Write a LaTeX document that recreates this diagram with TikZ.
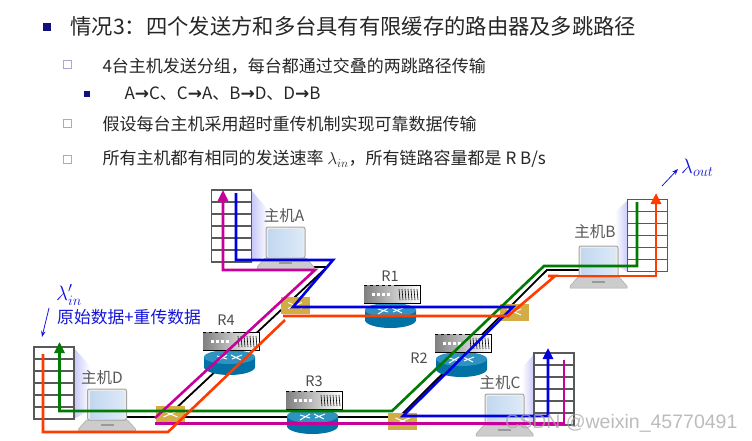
\documentclass[tikz,border=0pt]{standalone}
\usepackage{fontspec}
\usepackage{amsmath}
\usepackage{xcolor}
\setmainfont{Noto Sans CJK SC}
\newfontfamily\markfont{Liberation Sans}
\newfontfamily\arrowfont{DejaVu Sans}
\usetikzlibrary{arrows.meta}

\newcommand{\widecolon}{\char"FF1A\relax}
\newcommand{\widecomma}{\char"FF0C\relax}

\definecolor{navybullet}{HTML}{10107F}
\definecolor{lavbullet}{HTML}{A8A8D8}
\definecolor{textblue}{HTML}{1515D8}
\definecolor{pathblue}{HTML}{0000E0}
\definecolor{pathgreen}{HTML}{007A00}
\definecolor{pathpink}{HTML}{C8009A}
\definecolor{pathred}{HTML}{FF3C00}
\definecolor{rackgray}{HTML}{595959}
\definecolor{shadelav}{HTML}{C8C8FA}
\definecolor{routerteal}{HTML}{0072A6}
\definecolor{routertop}{HTML}{2E93C0}
\definecolor{switchgold}{HTML}{D2AC45}
\definecolor{screenleft}{HTML}{C2D8F0}
\definecolor{screenright}{HTML}{DCE9F7}

\tikzset{
    headline/.style={anchor=west, font=\fontsize{21.3}{22}\selectfont, text=black!85},
    subline/.style={anchor=west, font=\fontsize{17}{18}\selectfont, text=black!85},
    hostlabel/.style={font=\fontsize{15.5}{16}\selectfont, text=black!65},
    routerlabel/.style={font=\fontsize{14.5}{15}\selectfont, text=black!70},
    bluelabel/.style={font=\fontsize{16.8}{17}\selectfont, text=textblue},
    route/.style={line width=2.6pt, line join=miter},
    tipped/.style={-{Triangle[length=11pt,width=10pt]}},
    switchbox/.style={draw=none, fill=switchgold, minimum width=29pt, minimum height=17pt, inner sep=0pt,
        path picture={
            \draw[white, line width=1pt] ([xshift=-7pt,yshift=3pt]path picture bounding box.center) -- ([xshift=7pt,yshift=-3pt]path picture bounding box.center);
            \draw[white, line width=1pt] ([xshift=-7pt,yshift=-3pt]path picture bounding box.center) -- ([xshift=7pt,yshift=3pt]path picture bounding box.center);
        }},
    pics/bufferrack/.style={code={
        \draw[rackgray, line width=1.3pt] (0,0) rectangle (40,72);
        \foreach \r in {12,24,36,48,60} {
            \draw[rackgray, line width=1.3pt] (0,\r) -- (40,\r);
        }
    }},
    pics/hostlaptop/.style={code={
        \fill[black!20, draw=black!35, line width=0.5pt] (-1,31) -- (40,31) -- (48,40) -- (48,42) -- (-9,42) -- (-9,40) -- cycle;
        \fill[black!40] (13,35) rectangle (26,37);
        \draw[black!35, line width=1pt, rounded corners=2pt, fill=black!8] (0,0) rectangle (39,31);
        \shade[left color=screenleft, right color=screenright] (2.5,2.5) rectangle (36.5,29);
    }},
    pics/routerbox/.style={code={
        % cylinder
        \fill[routerteal] (1,25) arc[start angle=180, end angle=360, x radius=25.5, y radius=0] -- (52,35) arc[start angle=0, end angle=180, x radius=25.5, y radius=8] -- cycle;
        \fill[routertop] (26.5,25) ellipse[x radius=25.5, y radius=7];
        \draw[white, line width=1pt] (14,24) -- (24,27) (29,27) -- (39,23) (14,29) -- (24,23) (28,23) -- (38,28);
        % chassis
        \shade[left color=black!50, right color=white, draw=none] (0,0) rectangle (56,18);
        \draw[black, line width=0.6pt] (30,0) -- (56,0) -- (56,18) -- (0,18);
        \draw[black, line width=0.6pt, dashed] (0,0) -- (30,0);
        \foreach \d in {8,13,18,23} {
            \fill[white] (\d,8) rectangle +(3,3);
        }
        \foreach \v in {35,38,...,53} {
            \draw[black, line width=0.6pt] (\v,4) -- (\v+1,15);
        }
    }},
}

\begin{document}
\begin{tikzpicture}[x=1pt,y=-1pt]
    \useasboundingbox[fill=white] (0,0) rectangle (752,441);

    % Bullet list
    \fill[navybullet] (43,23) rectangle (51,31);
    \node[headline] (title) at (67,26) {情况3\widecolon 四个发送方和多台具有有限缓存的路由器及多跳路径};
    \draw[lavbullet, line width=1pt] (63.5,61) rectangle (71.5,69);
    \node[subline] (lineone) at (99,66) {4台主机发送分组\widecomma 每台都通过交叠的两跳路径传输};
    \fill[navybullet] (84,91) rectangle (89.5,97);
    \node[subline] (linetwo) at (121,94) {A{\arrowfont\bfseries →}C、C{\arrowfont\bfseries →}A、B{\arrowfont\bfseries →}D、D{\arrowfont\bfseries →}B};
    \draw[lavbullet, line width=1pt] (63.5,120) rectangle (71.5,128);
    \node[subline] (linethree) at (99,124) {假设每台主机采用超时重传机制实现可靠数据传输};
    \draw[lavbullet, line width=1pt] (63.5,155) rectangle (71.5,163);
    \node[subline] (linefour) at (99,159) {所有主机都有相同的发送速率 $\lambda_{in}$\widecomma 所有链路容量都是 R B/s};

    % Shadows behind the buffers
    \shade[left color=shadelav, right color=white] (252,191) -- (268,210) -- (268,255) -- (252,262) -- cycle;
    \shade[left color=shadelav, right color=white] (74,348) -- (90,366) -- (90,410) -- (74,419) -- cycle;
    \shade[left color=white, right color=shadelav] (628,200) -- (615,212) -- (615,265) -- (628,272) -- cycle;
    \shade[left color=white, right color=shadelav] (534,354) -- (522,368) -- (522,415) -- (534,425) -- cycle;

    % Bends of the routes
    \coordinate (blackA) at (300,267);
    \coordinate (blackAb) at (327,267);
    \coordinate (blackDa) at (127,417);
    \coordinate (blackDb) at (390,417);
    \coordinate (blackDc) at (172,412);
    \coordinate (blackCa) at (400,416);
    \coordinate (blackCb) at (547,270);
    \coordinate (blackCc) at (580,270);
    % black goes under everything else
    \draw[black, line width=1.8pt] (blackA) -- (blackAb) -- (blackDc);
    \draw[black, line width=1.8pt] (blackDa) -- (blackDb);
    \draw[black, line width=1.8pt] (blackCa) -- (blackCb) -- (blackCc);

    % Buffers
    \pic at (211.5,190) {bufferrack};
    \pic at (34,347) {bufferrack};
    \pic at (627.5,199.5) {bufferrack};
    \pic at (534,353) {bufferrack};

    % Hosts
    \pic at (266,227) {hostlaptop};
    \pic at (87.5,389) {hostlaptop};
    \pic at (579,246) {hostlaptop};
    \pic at (485,394) {hostlaptop};
    \node[hostlabel] (hostA) at (284,216) {主机A};
    \node[hostlabel] (hostD) at (102,378) {主机D};
    \node[hostlabel] (hostB) at (595,232) {主机B};
    \node[hostlabel] (hostC) at (500,383) {主机C};

    % Routers
    \pic at (364,285) {routerbox};
    \pic at (203,332) {routerbox};
    \pic at (286,391) {routerbox};
    \pic at (435,334) {routerbox};
    \node[routerlabel] (labelRa) at (390,276) {R1};
    \node[routerlabel] (labelRd) at (226,320) {R4};
    \node[routerlabel] (labelRc) at (314,381) {R3};
    \node[routerlabel] (labelRb) at (419,358) {R2};

    % Switches
    \node[switchbox] (switchA) at (295,305.5) {};
    \node[switchbox] (switchB) at (514,312) {};
    \node[switchbox] (switchC) at (170.5,414) {};
    \node[switchbox] (switchD) at (402.5,421) {};

    % Magenta route, C to A
    \coordinate (pinkCa) at (564,360);
    \coordinate (pinkCb) at (564,423.5);
    \coordinate (pinkCc) at (155,423.5);
    \coordinate (pinkAa) at (155,418);
    \coordinate (pinkAb) at (315,270);
    \coordinate (pinkAc) at (223,270);
    \coordinate (pinkAd) at (223,190);
    \draw[route, pathpink] (pinkCa) -- (pinkCb) -- (pinkCc);
    \draw[route, pathpink, tipped] (pinkAa) -- (pinkAb) -- (pinkAc) -- (pinkAd);

    % Green route, D to B
    \coordinate (greenDa) at (59.5,342);
    \coordinate (greenDb) at (59.5,411);
    \coordinate (greenDc) at (392,411);
    \coordinate (greenBa) at (544,266);
    \coordinate (greenBb) at (637,266);
    \coordinate (greenBc) at (637,202);
    \draw[route, pathgreen, {Triangle[length=11pt,width=10pt]}-] (greenDa) -- (greenDb) -- (greenDc) -- (greenBa) -- (greenBb) -- (greenBc);

    % Blue route, A to C
    \coordinate (blueAa) at (236,193);
    \coordinate (blueAb) at (236,260);
    \coordinate (blueAc) at (333,260);
    \coordinate (blueSa) at (293,307);
    \coordinate (blueSb) at (513,307);
    \coordinate (blueCa) at (403,416);
    \coordinate (blueCb) at (548,416);
    \coordinate (blueCc) at (548,348);
    \draw[route, pathblue, tipped] (blueAa) -- (blueAb) -- (blueAc) -- (blueSa) -- (blueSb) -- (blueCa) -- (blueCb) -- (blueCc);

    % Orange route, D to B
    \coordinate (redDa) at (43,354);
    \coordinate (redDb) at (43,432);
    \coordinate (redDc) at (168,432);
    \coordinate (redDd) at (285,320);
    \coordinate (redSa) at (283,316);
    \coordinate (redSb) at (508,316);
    \coordinate (redBa) at (555,276);
    \coordinate (redBb) at (548,276);
    \coordinate (redBc) at (656,276);
    \coordinate (redBd) at (656,193);
    \draw[route, pathred] (redDa) -- (redDb) -- (redDc) -- (redDd);
    \draw[route, pathred] (redSa) -- (redSb) -- (redBa) -- (redBb);
    \draw[route, pathred, tipped] (redBb) -- (redBc) -- (redBd);

    % Rates
    \coordinate (inFrom) at (49,308);
    \coordinate (inTo) at (42,337);
    \coordinate (outFrom) at (662,186);
    \coordinate (outTo) at (678,169);
    \draw[textblue, line width=0.8pt, -{Stealth[length=6pt]}] (inFrom) -- (inTo);
    \draw[textblue, line width=0.8pt, -{Stealth[length=6pt]}] (outFrom) -- (outTo);
    \node[bluelabel, anchor=west, inner sep=0pt, font=\fontsize{20}{20}\selectfont] (rateIn) at (56,295) {$\lambda'_{in}$};
    \node[bluelabel, anchor=west, inner sep=0pt] (dataIn) at (57,317) {原始数据+重传数据};
    \node[bluelabel, anchor=west, inner sep=0pt, font=\fontsize{20}{20}\selectfont] (rateOut) at (681,168) {$\lambda_{out}$};

    % Watermark
    \node[anchor=west, inner sep=0pt, text=black!35, opacity=0.75, font=\markfont\fontsize{19.5}{20}\selectfont] (mark) at (505,423) {CSDN @weixin\_45770491};
\end{tikzpicture}
\end{document}
